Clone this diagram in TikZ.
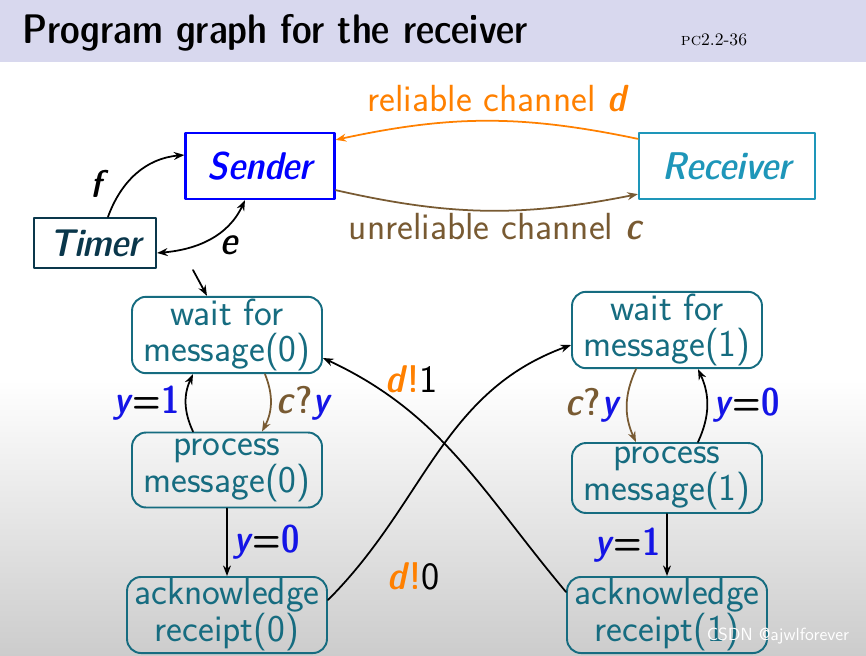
\documentclass[tikz,border=0pt]{standalone}
\usepackage{fontspec}
\newfontfamily\demisans{lmsansdemicond10-regular.otf}[ItalicFont=lmsansdemicond10-oblique.otf]
\usepackage{tikz}
\usetikzlibrary{arrows.meta,positioning}
\definecolor{titlebg}{RGB}{216,216,238}
\definecolor{stateteal}{RGB}{22,108,128}
\definecolor{senderblue}{RGB}{0,0,255}
\definecolor{recvcyan}{RGB}{30,150,185}
\definecolor{timerdark}{RGB}{10,55,75}
\definecolor{chanorange}{RGB}{255,128,0}
\definecolor{chanbrown}{RGB}{120,90,50}
\definecolor{varblue}{RGB}{20,20,230}
\newcommand{\vy}{\textcolor{varblue}{\textit{y}}}
\newcommand{\vnum}[1]{\textcolor{varblue}{#1}}
\tikzset{
    gtip/.tip={Stealth[length=6pt,width=4.5pt]},
    state/.style={draw=stateteal, line width=1.1pt, rounded corners=8pt, text=stateteal,
        align=center, minimum width=3.8cm, minimum height=1.5cm, inner sep=1pt,
        font=\sffamily\fontsize{21.5}{21}\selectfont},
    agent/.style={draw, line width=1.3pt, minimum height=1.32cm,
        font=\demisans\itshape\fontsize{22}{24}\selectfont},
    trans/.style={-gtip, line width=1pt},
    lbl/.style={font=\demisans\fontsize{22}{24}\selectfont, inner sep=1pt},
    chan/.style={font=\sffamily\fontsize{21.5}{24}\selectfont}
}

\begin{document}
\begin{tikzpicture}[line cap=round,line join=round,x=0.02cm,y=-0.02cm]
    \useasboundingbox (0,0) rectangle (866,656);
    % slide background
    \fill[titlebg] (0,0) rectangle (866,62);
    \shade[top color=white,bottom color=black!20] (0,380) rectangle (866,656);
    \node[anchor=west,font=\demisans\fontsize{23.5}{28}\selectfont] (title) at (16,33) {Program graph for the receiver};
    \node[font=\fontsize{10}{11}\selectfont] (page) at (714,40) {\textsc{pc}2.2-36};

    % the three processes
    \node[agent,draw=senderblue,text=senderblue,minimum width=2.98cm] (sender) at (260,166) {Sender};
    \node[agent,draw=recvcyan,text=recvcyan,minimum width=3.52cm] (receiver) at (727,166) {Receiver};
    \node[agent,draw=timerdark,text=timerdark,minimum width=2.44cm,minimum height=1cm] (timer) at (95,243) {Timer};

    \draw[trans,chanorange] ([yshift=-0.14cm]receiver.north west) to[bend right=12]
        node[chan,midway,above=0.04cm,xshift=0.2cm] {reliable channel {\demisans\itshape d}}
        ([yshift=-0.16cm]sender.north east);
    \draw[trans,chanbrown] ([yshift=0.2cm]sender.south east) to[bend right=12]
        node[chan,midway,below=-0.08cm,xshift=0.17cm] {unreliable channel {\demisans\itshape c}}
        ([yshift=0.12cm]receiver.south west);
    \draw[trans] ([xshift=0.26cm]timer.north) to[out=70,in=185]
        node[lbl,pos=0.35,left=0.3cm] {\textit{f}} ([yshift=0.22cm]sender.west);
    \draw[gtip-gtip, line width=1pt] ([yshift=-0.2cm]timer.east) to[out=5,in=-115]
        node[lbl,pos=0.6,below right] {\textit{e}} ([xshift=-0.3cm]sender.south);

    % program graph of the receiver
    \node[state] (wait0) at (227,335) {wait for\\message(0)};
    \node[state] (proc0) at (227,470) {process\\message(0)};
    \node[state,minimum width=4cm] (ack0) at (227,615) {acknowledge\\receipt(0)};
    \node[state] (wait1) at (667,330) {wait for\\message(1)};
    \node[state,minimum height=1.4cm] (proc1) at (667,478) {process\\message(1)};
    \node[state,minimum width=4cm] (ack1) at (667,615) {acknowledge\\receipt(1)};

    \coordinate (start) at (193,270);
    \draw[trans] (start) -- ([xshift=-0.4cm]wait0.north);

    \draw[trans] ([xshift=-0.68cm]proc0.north) to[bend left=25]
        node[lbl,left=2pt] {\vy=\vnum{1}} ([xshift=-0.68cm]wait0.south);
    \draw[trans,chanbrown] ([xshift=0.76cm]wait0.south) to[bend left=25]
        node[lbl,right=2pt] {\textit{c}?\vy} ([xshift=0.7cm]proc0.north);
    \draw[trans] (proc0) -- node[lbl,right=2pt] {\vy=\vnum{0}} (ack0);

    \draw[trans,chanbrown] ([xshift=-0.62cm]wait1.south) to[bend right=25]
        node[lbl,left=2pt] {\textit{c}?\vy} ([xshift=-0.62cm]proc1.north);
    \draw[trans] ([xshift=0.62cm]proc1.north) to[bend right=25]
        node[lbl,right=2pt] {\vy=\vnum{0}} ([xshift=0.62cm]wait1.south);
    \draw[trans] (proc1) -- node[lbl,left=2pt] {\vy=\vnum{1}} (ack1);

    \draw[trans] ([yshift=0.3cm]ack0.east) to[out=45,in=200]
        node[lbl,pos=0.08,right=0.7cm] {\textcolor{chanorange}{\textit{d}!}{\sffamily 0}} ([yshift=-0.3cm]wait1.west);
    \draw[trans] ([yshift=0.46cm]ack1.west) to[out=130,in=-25]
        node[lbl,pos=0.88,right=0.4cm] {\textcolor{chanorange}{\textit{d}!}{\sffamily 1}} ([yshift=-0.46cm]wait0.east);

    \node[font=\sffamily\fontsize{10}{12}\selectfont,text=white] (mark) at (778,636) {CSDN @ajwlforever};
\end{tikzpicture}
\end{document}
